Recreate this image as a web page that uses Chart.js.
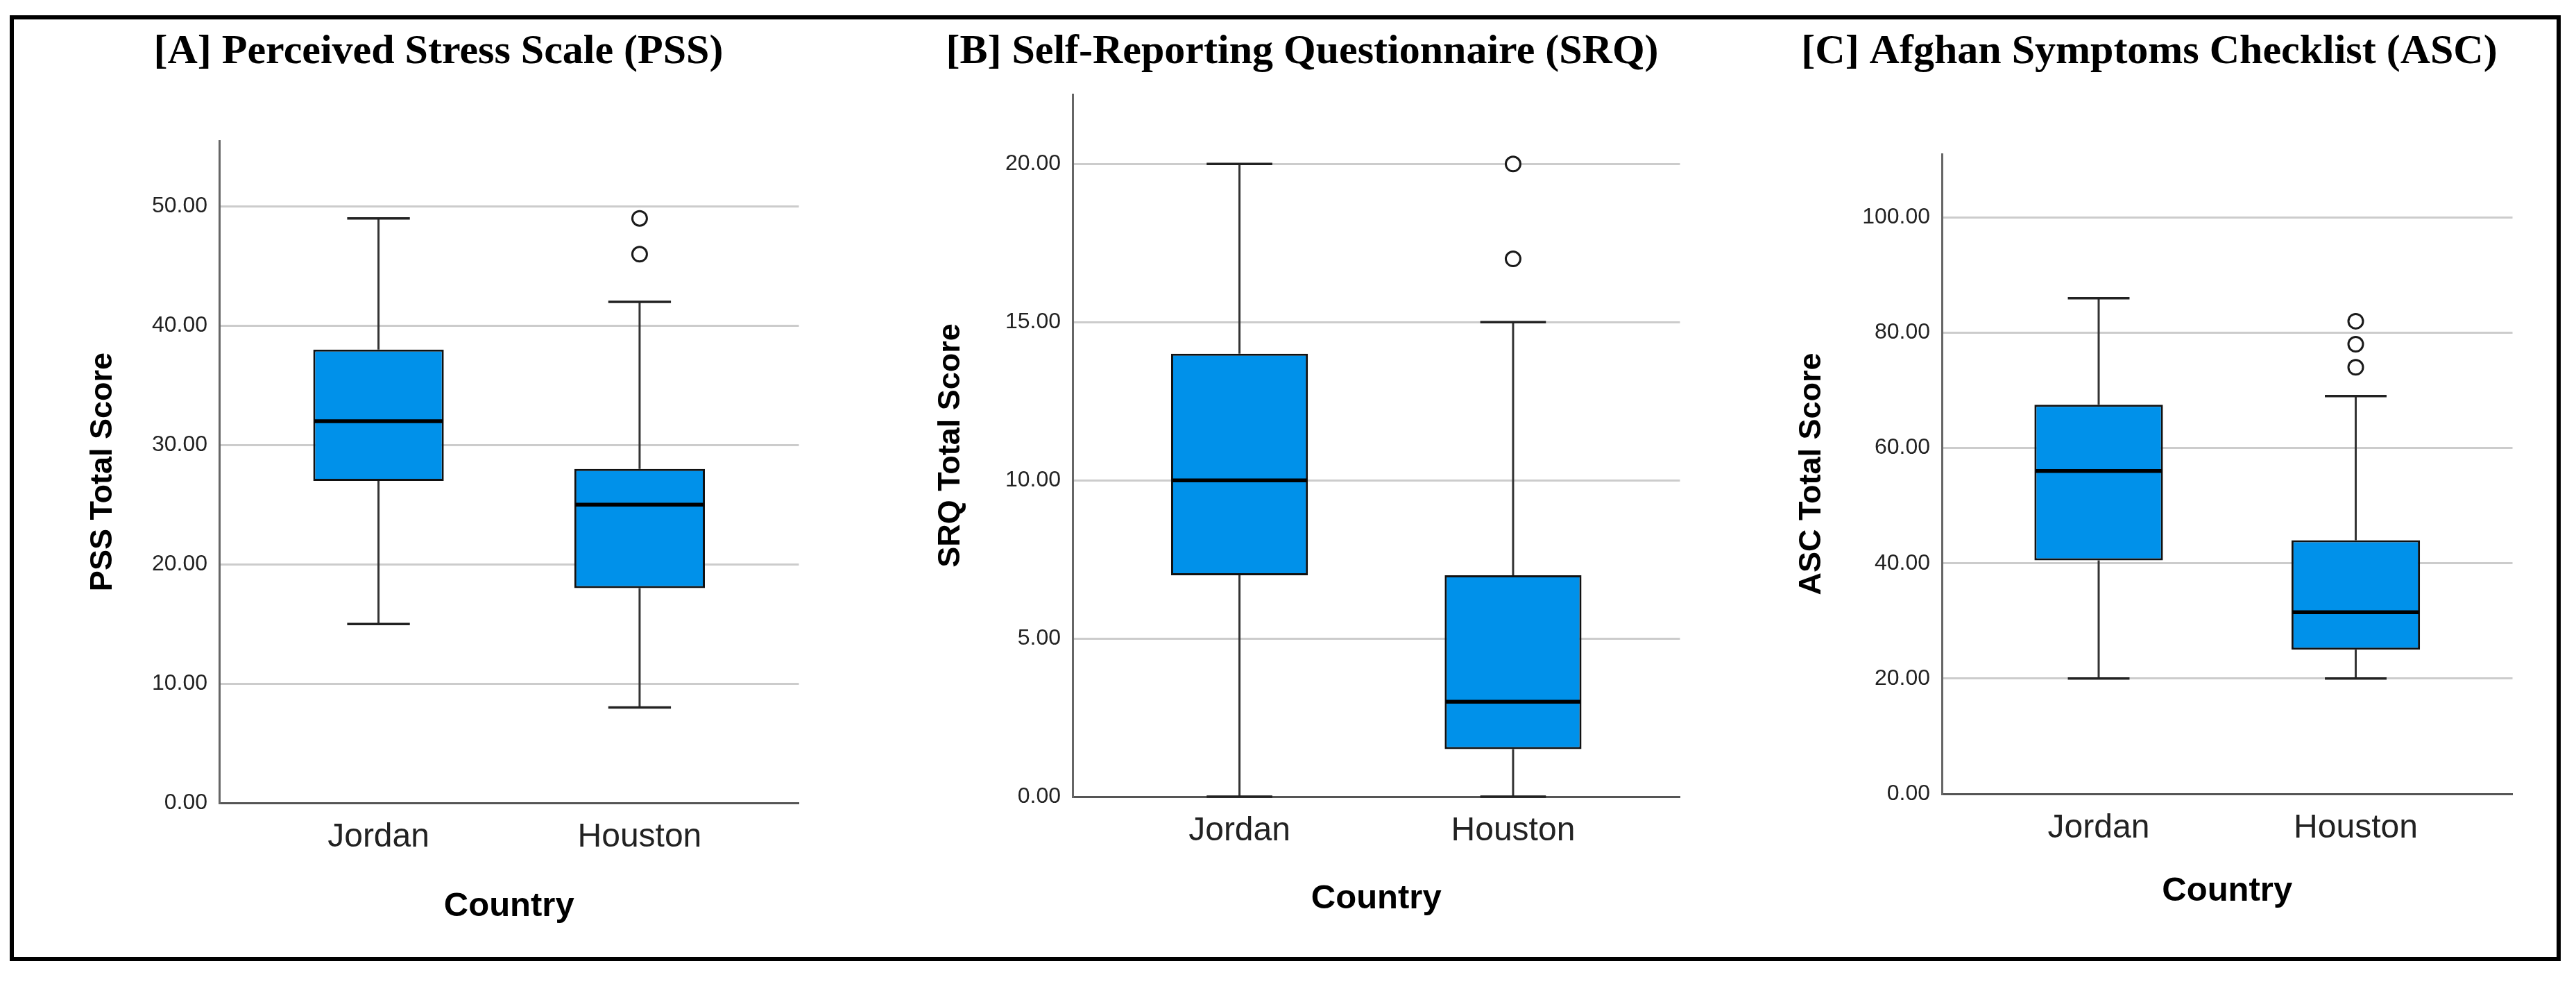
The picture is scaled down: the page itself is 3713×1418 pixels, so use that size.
<!DOCTYPE html>
<html>
<head>
<meta charset="utf-8">
<script src="https://cdn.jsdelivr.net/npm/chart.js@4/dist/chart.umd.min.js"></script>
<style>
  html, body { margin: 0; padding: 0; background: #ffffff; }
  body { width: 3713px; height: 1418px; position: relative; overflow: hidden; }
  #frame { position: absolute; left: 14px; top: 22px; width: 3665px; height: 1351px; border: 6px solid #000; }
  canvas { position: absolute; top: 0; }
</style>
</head>
<body>
<div id="frame"></div>
<canvas id="cA" width="1066" height="1418" style="left:99px;width:1066px;height:1418px"></canvas>
<canvas id="cB" width="1116" height="1418" style="left:1319px;width:1116px;height:1418px"></canvas>
<canvas id="cC" width="1074" height="1418" style="left:2561px;width:1074px;height:1418px"></canvas>
<script>
// ---------- data ----------
const categories = ['Jordan', 'Houston'];

const pssMin      = [15, 8];
const pssQ1       = [27, 18];
const pssMedian   = [32, 25];
const pssQ3       = [38, 28];
const pssMax      = [49, 42];
const pssOutliers = [[], [46, 49]];

const srqMin      = [0, 0];
const srqQ1       = [7, 1.5];
const srqMedian   = [10, 3];
const srqQ3       = [14, 7];
const srqMax      = [20, 15];
const srqOutliers = [[], [17, 20]];

const ascMin      = [20, 20];
const ascQ1       = [40.5, 25];
const ascMedian   = [56, 31.5];
const ascQ3       = [67.5, 44];
const ascMax      = [86, 69];
const ascOutliers = [[], [74, 78, 82]];

const pssTicks = { max: 55.5, step: 10 };
const srqTicks = { max: 22.2, step: 5 };
const ascTicks = { max: 111, step: 20 };

// ---------- styling ----------
const BOX_FILL = '#0091EA';
const CAP_HALF = 0.12; // half whisker cap width in category units

const whiskerPlugin = {
  id: 'boxWhiskers',
  afterDatasetsDraw(chart, args, opts) {
    const { ctx } = chart;
    const x = chart.scales.x, y = chart.scales.y;
    const meta = chart.getDatasetMeta(0);
    ctx.save();
    ctx.lineCap = 'butt';
    opts.q1.forEach((q1, i) => {
      const cx = x.getPixelForValue(i);
      const capHalf = x.getPixelForValue(i + CAP_HALF) - cx;
      const bar = meta.data[i];
      const boxHalf = bar.width / 2;
      ctx.strokeStyle = '#333333';
      ctx.lineWidth = 3;
      ctx.beginPath();
      ctx.moveTo(cx, y.getPixelForValue(opts.q3[i]));
      ctx.lineTo(cx, y.getPixelForValue(opts.max[i]));
      ctx.moveTo(cx, y.getPixelForValue(q1));
      ctx.lineTo(cx, y.getPixelForValue(opts.min[i]));
      ctx.stroke();
      ctx.strokeStyle = '#222222';
      ctx.lineWidth = 3.5;
      ctx.beginPath();
      [opts.max[i], opts.min[i]].forEach(v => {
        const py = y.getPixelForValue(v);
        ctx.moveTo(cx - capHalf, py);
        ctx.lineTo(cx + capHalf, py);
      });
      ctx.stroke();
      ctx.strokeStyle = '#000000';
      ctx.lineWidth = 5.5;
      ctx.beginPath();
      const my = y.getPixelForValue(opts.median[i]);
      ctx.moveTo(cx - boxHalf + 1.5, my);
      ctx.lineTo(cx + boxHalf - 1.5, my);
      ctx.stroke();
    });
    ctx.restore();
  }
};

function makePanel(canvasId, cfg) {
  const boxes = categories.map((c, i) => ({ x: i, y: [cfg.q1[i], cfg.q3[i]] }));
  const outs = [];
  cfg.outliers.forEach((arr, i) => arr.forEach(v => outs.push({ x: i, y: v })));
  return new Chart(document.getElementById(canvasId), {
    type: 'bar',
    data: {
      datasets: [
        {
          type: 'bar',
          data: boxes,
          backgroundColor: BOX_FILL,
          borderColor: '#111111',
          borderWidth: 3,
          borderSkipped: false,
          barPercentage: 0.5,
          categoryPercentage: 1.0
        },
        {
          type: 'scatter',
          data: outs,
          pointStyle: 'circle',
          pointRadius: 10.5,
          pointBorderWidth: 3,
          pointBackgroundColor: '#ffffff',
          pointBorderColor: '#1a1a1a',
          showLine: false
        }
      ]
    },
    options: {
      responsive: false,
      devicePixelRatio: 1,
      animation: false,
      events: [],
      layout: { padding: 0 },
      plugins: {
        legend: { display: false },
        tooltip: { enabled: false },
        title: {
          display: true,
          text: cfg.title,
          color: '#000000',
          font: { family: "'Liberation Serif', 'Times New Roman', serif", size: 60, weight: 'bold', lineHeight: 1.2 },
          padding: { top: 39, bottom: cfg.titleBottom }
        },
        boxWhiskers: { min: cfg.min, q1: cfg.q1, median: cfg.median, q3: cfg.q3, max: cfg.max }
      },
      scales: {
        x: {
          type: 'linear',
          offset: false,
          min: -0.61,
          max: 1.61,
          afterBuildTicks: s => { s.ticks = categories.map((c, i) => ({ value: i })); },
          afterFit: s => { s.height = cfg.xHeight; },
          grid: { display: false, drawTicks: false, offset: false },
          border: { display: true, color: '#555555', width: 3 },
          ticks: {
            padding: 21,
            color: '#222222',
            maxRotation: 0,
            autoSkip: false,
            font: { family: "'Liberation Sans', Arial, sans-serif", size: 48 },
            callback: v => categories[v]
          },
          title: {
            display: true,
            text: 'Country',
            color: '#000000',
            font: { family: "'Liberation Sans', Arial, sans-serif", size: 49, weight: 'bold', lineHeight: 1.2 },
            padding: { top: 0, bottom: cfg.xTitleBottom }
          }
        },
        y: {
          type: 'linear',
          min: 0,
          max: cfg.ticks.max,
          afterFit: s => { s.width = cfg.yWidth; },
          grid: { display: true, drawTicks: false, color: '#cccccc', lineWidth: 3 },
          border: { display: true, color: '#666666', width: 3 },
          ticks: {
            stepSize: cfg.ticks.step,
            includeBounds: false,
            padding: 17,
            color: '#222222',
            font: { family: "'Liberation Sans', Arial, sans-serif", size: 32 },
            callback: v => Number(v).toFixed(2)
          },
          title: {
            display: true,
            text: cfg.yTitle,
            color: '#000000',
            font: { family: "'Liberation Sans', Arial, sans-serif", size: 45, weight: 'bold', lineHeight: 1.2 },
            padding: { top: cfg.yTitlePad, bottom: 0 }
          }
        }
      }
    },
    plugins: [whiskerPlugin]
  });
}

makePanel('cA', {
  title: '[A] Perceived Stress Scale (PSS)', yTitle: 'PSS Total Score',
  min: pssMin, q1: pssQ1, median: pssMedian, q3: pssQ3, max: pssMax, outliers: pssOutliers,
  ticks: pssTicks, titleBottom: 92, yWidth: 217, yTitlePad: 23, xHeight: 261, xTitleBottom: 82.6
});
makePanel('cB', {
  title: '[B] Self-Reporting Questionnaire (SRQ)', yTitle: 'SRQ Total Score',
  min: srqMin, q1: srqQ1, median: srqMedian, q3: srqQ3, max: srqMax, outliers: srqOutliers,
  ticks: srqTicks, titleBottom: 25, yWidth: 227, yTitlePad: 25, xHeight: 270, xTitleBottom: 93.6
});
makePanel('cC', {
  title: '[C] Afghan Symptoms Checklist (ASC)', yTitle: 'ASC Total Score',
  min: ascMin, q1: ascQ1, median: ascMedian, q3: ascQ3, max: ascMax, outliers: ascOutliers,
  ticks: ascTicks, titleBottom: 111, yWidth: 238, yTitlePad: 24, xHeight: 274, xTitleBottom: 104.6
});
</script>
</body>
</html>
